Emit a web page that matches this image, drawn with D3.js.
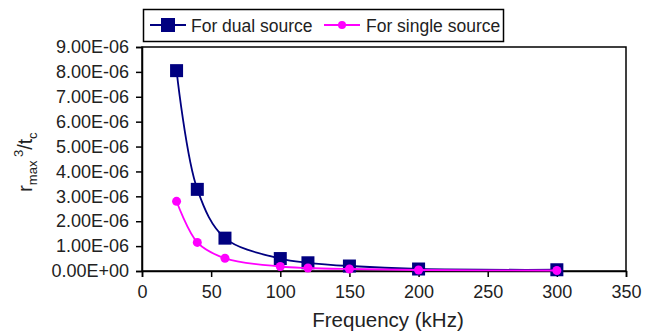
<!DOCTYPE html>
<html>
<head>
<meta charset="utf-8">
<script src="https://cdn.jsdelivr.net/npm/d3@7"></script>
<style>
  body { margin: 0; background: #fff; }
  svg { font-family: "Liberation Sans", Arial, sans-serif; }
</style>
</head>
<body>
<svg id="chart"></svg>
<script>
// data
const freq = [25, 40, 60, 100, 120, 150, 200, 300];
const dualSource = [8.05e-6, 3.28e-6, 1.32e-6, 0.50e-6, 0.33e-6, 0.20e-6, 0.08e-6, 0.05e-6];
const singleSource = [2.80e-6, 1.15e-6, 0.51e-6, 0.18e-6, 0.12e-6, 0.08e-6, 0.04e-6, 0.02e-6];
const xTicks = [0, 50, 100, 150, 200, 250, 300, 350];
const yTicks = [0, 1e-6, 2e-6, 3e-6, 4e-6, 5e-6, 6e-6, 7e-6, 8e-6, 9e-6];
const seriesNames = ["For dual source", "For single source"];

const width = 658, height = 335;
const margin = {top: 47, right: 32, bottom: 64, left: 142};

let svg = d3.select("#chart")
    .attr("width", width)
    .attr("height", height);

let x = d3.scaleLinear().domain([0, 350]).range([margin.left, width - margin.right]);
let y = d3.scaleLinear().domain([0, 9e-6]).range([height - margin.bottom, margin.top]);

// plot frame
svg.append("rect")
    .attr("x", margin.left)
    .attr("y", margin.top)
    .attr("width", width - margin.left - margin.right)
    .attr("height", height - margin.top - margin.bottom)
    .attr("fill", "none")
    .attr("stroke", "#000")
    .attr("stroke-width", 1.5);

// excel-ish exponent labels
let fmtExp = v => {
    if (v === 0) return "0.00E+00";
    let e = Math.floor(Math.log10(v) + 1e-9);
    let m = v / Math.pow(10, e);
    return m.toFixed(2) + "E-" + String(-e).padStart(2, "0");
};

let xAxis = svg.append("g")
    .attr("transform", `translate(0,${height - margin.bottom})`)
    .call(d3.axisBottom(x).tickValues(xTicks).tickSize(6).tickPadding(8));
let yAxis = svg.append("g")
    .attr("transform", `translate(${margin.left},0)`)
    .call(d3.axisLeft(y).tickValues(yTicks).tickFormat(fmtExp).tickSize(6).tickPadding(7));

[xAxis, yAxis].forEach(a => {
    a.select(".domain").attr("stroke-width", 1.5);
    a.selectAll(".tick line").attr("stroke-width", 1.5);
    a.selectAll("text").attr("font-size", 18).attr("fill", "#222")
        .attr("font-family", "Liberation Sans, Arial, sans-serif");
});

// axis titles
svg.append("text")
    .attr("x", 388).attr("y", 327)
    .attr("text-anchor", "middle")
    .attr("font-size", 20.5)
    .attr("fill", "#222")
    .text("Frequency (kHz)");

let yTitle = svg.append("text")
    .attr("transform", "translate(32,162) rotate(-90)")
    .attr("text-anchor", "middle")
    .attr("font-size", 19.5)
    .attr("fill", "#222");
yTitle.append("tspan").text("r");
yTitle.append("tspan").attr("font-size", 13).attr("dy", 5).text("max");
yTitle.append("tspan").attr("font-size", 13).attr("dy", -14).text(" 3");
yTitle.append("tspan").attr("dy", 9).text("/t");
yTitle.append("tspan").attr("font-size", 13).attr("dy", 5).text("c");

// series
let line = d3.line()
    .x(d => x(d[0]))
    .y(d => y(d[1]))
    .curve(d3.curveCatmullRom.alpha(0.5));

let dualPts = freq.map((f, i) => [f, dualSource[i]]);
let singlePts = freq.map((f, i) => [f, singleSource[i]]);

svg.append("path")
    .datum(dualPts)
    .attr("d", line)
    .attr("fill", "none")
    .attr("stroke", "#000080")
    .attr("stroke-width", 1.8);

svg.selectAll("rect.dual")
    .data(dualPts)
    .enter().append("rect")
    .attr("class", "dual")
    .attr("x", d => x(d[0]) - 6.5)
    .attr("y", d => y(d[1]) - 6.5)
    .attr("width", 13)
    .attr("height", 13)
    .attr("fill", "#000080");

svg.append("path")
    .datum(singlePts)
    .attr("d", line)
    .attr("fill", "none")
    .attr("stroke", "#ff00ff")
    .attr("stroke-width", 1.8);

svg.selectAll("circle.single")
    .data(singlePts)
    .enter().append("circle")
    .attr("class", "single")
    .attr("cx", d => x(d[0]))
    .attr("cy", d => y(d[1]))
    .attr("r", 4.5)
    .attr("fill", "#ff00ff");

// legend
let legend = svg.append("g");
legend.append("rect")
    .attr("x", 143.5).attr("y", 9.5)
    .attr("width", 360).attr("height", 32)
    .attr("fill", "#fff")
    .attr("stroke", "#000")
    .attr("stroke-width", 1.5);

let lg1 = legend.append("g").attr("transform", "translate(150,25)");
lg1.append("line").attr("x1", 0).attr("x2", 36).attr("stroke", "#000080").attr("stroke-width", 1.8);
lg1.append("rect").attr("x", 11).attr("y", -7).attr("width", 14).attr("height", 14).attr("fill", "#000080");
lg1.append("text").attr("x", 41).attr("y", 6.5).attr("font-size", 17.5).attr("fill", "#222").text(seriesNames[0]);

let lg2 = legend.append("g").attr("transform", "translate(324,25)");
lg2.append("line").attr("x1", 0).attr("x2", 36).attr("stroke", "#ff00ff").attr("stroke-width", 1.8);
lg2.append("circle").attr("cx", 18).attr("r", 4).attr("fill", "#ff00ff");
lg2.append("text").attr("x", 42).attr("y", 6.5).attr("font-size", 17.5).attr("fill", "#222").text(seriesNames[1]);
</script>
</body>
</html>
